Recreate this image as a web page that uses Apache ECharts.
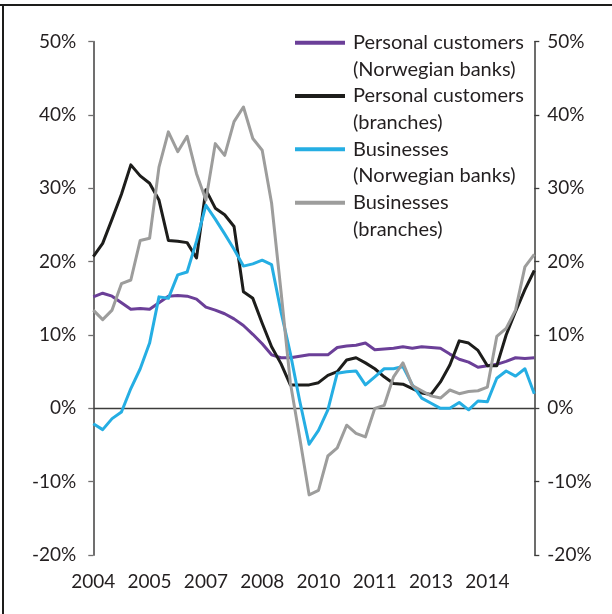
<!DOCTYPE html>
<html>
<head>
<meta charset="utf-8">
<script src="https://cdn.jsdelivr.net/npm/echarts@6/dist/echarts.min.js"></script>
<style>
html,body{margin:0;padding:0;background:#fff;}
#chart{width:612px;height:614px;}
</style>
</head>
<body>
<div id="chart"></div>
<script>
// Quarterly categories 2004 Q1 .. 2015 Q4
var categories = [
 '2004 Q1','2004 Q2','2004 Q3','2004 Q4','2005 Q1','2005 Q2','2005 Q3','2005 Q4',
 '2006 Q1','2006 Q2','2006 Q3','2006 Q4','2007 Q1','2007 Q2','2007 Q3','2007 Q4',
 '2008 Q1','2008 Q2','2008 Q3','2008 Q4','2009 Q1','2009 Q2','2009 Q3','2009 Q4',
 '2010 Q1','2010 Q2','2010 Q3','2010 Q4','2011 Q1','2011 Q2','2011 Q3','2011 Q4',
 '2012 Q1','2012 Q2','2012 Q3','2012 Q4','2013 Q1','2013 Q2','2013 Q3','2013 Q4',
 '2014 Q1','2014 Q2','2014 Q3','2014 Q4','2015 Q1','2015 Q2','2015 Q3','2015 Q4'
];
var seriesNames = [
 'Personal customers\n(Norwegian banks)',
 'Personal customers\n(branches)',
 'Businesses\n(Norwegian banks)',
 'Businesses\n(branches)'
];
var personalNorwegian = [15.2, 15.7, 15.3, 14.4, 13.5, 13.6, 13.5, 14.4, 15.3, 15.4,
 15.3, 14.9, 13.8, 13.4, 12.9, 12.2, 11.3, 10.1, 8.8, 7.3,
 6.9, 6.9, 7.1, 7.3, 7.3, 7.3, 8.3, 8.5, 8.6, 8.9,
 8.0, 8.1, 8.2, 8.4, 8.2, 8.4, 8.3, 8.2, 7.4, 6.7,
 6.3, 5.6, 5.8, 6.0, 6.4, 6.9, 6.8, 6.9];
var personalBranches = [20.7, 22.5, 25.8, 29.2, 33.2, 31.7, 30.7, 28.4, 22.9, 22.8,
 22.6, 20.5, 29.8, 27.3, 26.4, 24.8, 15.9, 15.0, 11.6, 8.4,
 6.1, 3.2, 3.2, 3.2, 3.5, 4.5, 5.0, 6.6, 6.9, 6.2,
 5.4, 4.3, 3.4, 3.3, 2.7, 2.1, 1.9, 3.6, 5.9, 9.2,
 8.9, 7.9, 5.8, 5.8, 10.0, 13.2, 16.2, 18.8];
var businessNorwegian = [-2.1, -2.9, -1.4, -0.5, 2.7, 5.4, 8.9, 15.2, 15.0, 18.2,
 18.6, 22.8, 27.7, 25.8, 23.8, 21.7, 19.4, 19.7, 20.2, 19.6,
 13.2, 7.5, 1.0, -4.9, -3.0, -0.2, 4.8, 5.0, 5.1, 3.2,
 4.3, 5.4, 5.4, 5.7, 3.2, 1.4, 0.7, 0.0, 0.0, 0.8,
 -0.2, 1.0, 0.9, 4.1, 5.1, 4.4, 5.4, 2.0];
var businessBranches = [13.4, 12.1, 13.4, 17.0, 17.5, 22.9, 23.2, 32.9, 37.7, 35.0,
 37.1, 32.0, 28.4, 36.1, 34.5, 39.1, 41.1, 36.8, 35.2, 28.0,
 16.0, 3.5, -4.0, -11.8, -11.2, -6.5, -5.4, -2.3, -3.4, -3.9,
 0.0, 0.4, 4.3, 6.2, 3.1, 2.4, 1.7, 1.4, 2.5, 2.0,
 2.3, 2.4, 2.9, 9.8, 10.9, 13.4, 19.3, 21.0];
var yMin = -20, yMax = 50, yStep = 10;

var colors = ['#6b3f98', '#1d1d1b', '#25aee3', '#9d9d9c'];
var FONT = 'Lato';
var TXT = '#231f20';
var values = [personalNorwegian, personalBranches, businessNorwegian, businessBranches];

var chart = echarts.init(document.getElementById('chart'), null, {renderer: 'canvas'});

var LH = 26.7;
var legendCenters = [42.7, 96, 149.3, 202.7];
var legends = seriesNames.map(function (n, i) {
  return {
    data: [n],
    orient: 'vertical',
    left: 295,
    top: legendCenters[i] - 1.5 * LH,
    padding: 0,
    icon: 'rect',
    itemWidth: 50,
    itemHeight: 4,
    selectedMode: false,
    // leading blank line keeps the first text line level with the icon
    formatter: function (name) { return ' \n' + name; },
    textStyle: {
      fontFamily: FONT, fontSize: 20, color: TXT,
      lineHeight: LH, padding: [0, 0, 0, 3]
    }
  };
});

var series = seriesNames.map(function (n, i) {
  var s = {
    name: n,
    type: 'line',
    data: values[i],
    symbol: 'none',
    smooth: false,
    lineStyle: {width: 3, color: colors[i], join: 'round'},
    itemStyle: {color: colors[i]},
    z: 3 + i
  };
  if (i === 0) {
    s.markLine = {
      silent: true, symbol: 'none', label: {show: false},
      lineStyle: {color: '#3c3c3b', width: 1.3, type: 'solid'},
      data: [{yAxis: 0}],
      z: 1
    };
  }
  return s;
});

var yAxisBase = {
  type: 'value', min: yMin, max: yMax, interval: yStep,
  splitLine: {show: false},
  axisTick: {show: true, length: 5, inside: false},
  axisLabel: {fontFamily: FONT, fontSize: 19, color: TXT, formatter: '{value}%'}
};

chart.setOption({
  animation: false,
  backgroundColor: '#ffffff',
  color: colors,
  grid: {left: 93.3, right: 77.7, top: 41.7, bottom: 59, containLabel: false},
  legend: legends,
  xAxis: {
    type: 'category',
    data: categories,
    boundaryGap: false,
    axisLine: {show: false},
    axisTick: {show: false},
    splitLine: {show: false},
    axisLabel: {
      interval: 5, margin: 17,
      fontFamily: FONT, fontSize: 19, color: TXT,
      formatter: function (v) { return v.slice(0, 4); }
    }
  },
  yAxis: [
    Object.assign({}, yAxisBase, {
      position: 'left',
      axisLine: {show: true, lineStyle: {color: '#706f6f', width: 2}},
      axisTick: {show: true, length: 5, lineStyle: {color: '#706f6f', width: 1.3}},
      axisLabel: Object.assign({}, yAxisBase.axisLabel, {margin: 17})
    }),
    Object.assign({}, yAxisBase, {
      position: 'right',
      axisLine: {show: true, lineStyle: {color: '#3c3c3b', width: 1.5}},
      axisTick: {show: true, length: 5, lineStyle: {color: '#3c3c3b', width: 1.3}},
      axisLabel: Object.assign({}, yAxisBase.axisLabel, {margin: 13})
    })
  ],
  series: series,
  graphic: [
    {type: 'line', shape: {x1: 0, y1: 5, x2: 612, y2: 5}, style: {stroke: '#1d1d1b', lineWidth: 2}, silent: true},
    {type: 'line', shape: {x1: 3, y1: 4, x2: 3, y2: 614}, style: {stroke: '#1d1d1b', lineWidth: 2}, silent: true}
  ]
});
</script>
</body>
</html>
